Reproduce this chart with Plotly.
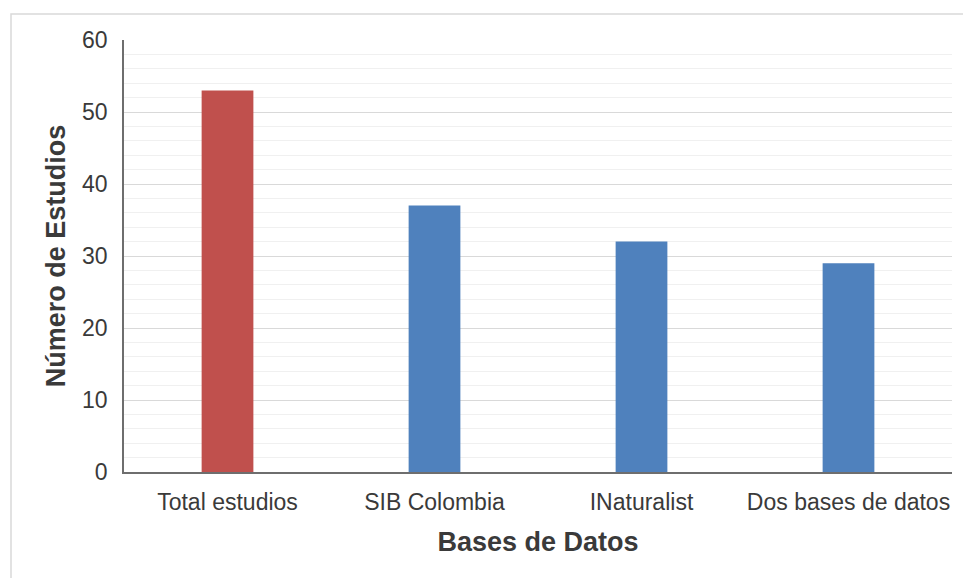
import plotly.graph_objects as go

categories = ["Total estudios", "SIB Colombia", "INaturalist", "Dos bases de datos"]
values = [53, 37, 32, 29]
bar_colors = ["#C0504D", "#4F81BD", "#4F81BD", "#4F81BD"]
y_tickvals = [0, 10, 20, 30, 40, 50, 60]

W, H = 963, 578
L, R, T, B = 124, 11, 40, 106
pw, ph = W - L - R, H - T - B

fig = go.Figure(go.Bar(
    x=categories, y=values, width=0.25,
    marker=dict(color=bar_colors, line=dict(width=0)),
))

font_family = "Liberation Sans, Arial, sans-serif"

fig.update_layout(
    width=W, height=H,
    margin=dict(l=L, r=R, t=T, b=B, autoexpand=False),
    paper_bgcolor="white", plot_bgcolor="white",
    showlegend=False,
    font=dict(family=font_family, color="#404040"),
    bargap=0.75,
    shapes=[dict(
        type="rect", xref="paper", yref="paper",
        x0=(11 - L) / pw, x1=1.3, y0=-0.5, y1=(H - B - 14) / ph,
        line=dict(color="#D9D9D9", width=1.5), fillcolor="rgba(0,0,0,0)",
        layer="below",
    )],
)

fig.update_xaxes(
    showline=True, linecolor="#6E6E6E", linewidth=1.5,
    showgrid=False, ticks="", tickfont=dict(size=23, color="#3A3A3A"),
    ticklabelstandoff=9,
    title=dict(text="<b>Bases de Datos</b>", font=dict(size=27, color="#3A3A3A"), standoff=18),
    automargin=False,
)
fig.update_yaxes(
    range=[0, 60], tickvals=y_tickvals,
    showline=True, linecolor="#6E6E6E", linewidth=1.5,
    showgrid=True, gridcolor="#D9D9D9", gridwidth=1,
    minor=dict(dtick=2, showgrid=True, gridcolor="#F0F0F0", gridwidth=1),
    zeroline=False, ticks="", tickfont=dict(size=23, color="#3A3A3A"),
    ticklabelstandoff=10,
    title=dict(text="<b>Número de Estudios</b>", font=dict(size=27, color="#3A3A3A"), standoff=9),
    automargin=False,
)

fig.write_html("out.html")
